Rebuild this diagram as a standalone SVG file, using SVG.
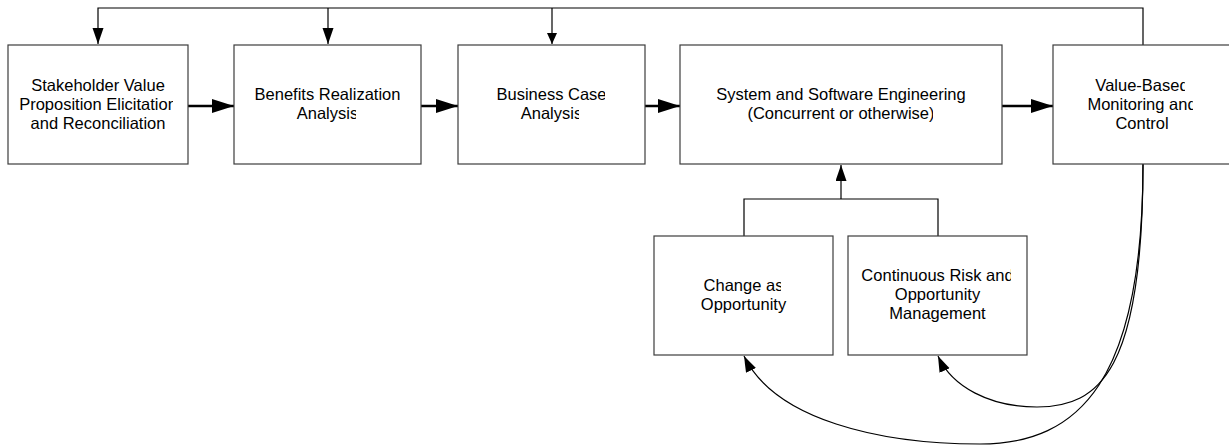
<svg xmlns="http://www.w3.org/2000/svg" width="1229" height="445" viewBox="0 0 1229 445">
<style>
.box{fill:#fff;stroke:#3c3c3c;stroke-width:1.2}
.t{font-family:"Liberation Sans",Arial,sans-serif;font-size:16.5px;fill:#000;text-anchor:middle}
.ln{fill:none;stroke:#000;stroke-width:1.2}
.thick{fill:none;stroke:#000;stroke-width:2.6}
</style>
<defs>
<marker id="big" markerUnits="userSpaceOnUse" markerWidth="24" markerHeight="16" refX="22" refY="7" orient="auto"><path d="M0,0 L22,7 L0,14 z" fill="#000"/></marker>
<marker id="med" markerUnits="userSpaceOnUse" markerWidth="18" markerHeight="14" refX="16" refY="5.5" orient="auto"><path d="M0,0 L16,5.5 L0,11 z" fill="#000"/></marker>
<marker id="sm" markerUnits="userSpaceOnUse" markerWidth="14" markerHeight="12" refX="11" refY="5" orient="auto"><path d="M0,0 L11,5 L0,10 z" fill="#000"/></marker>
<marker id="cv" markerUnits="userSpaceOnUse" markerWidth="18" markerHeight="14" refX="16" refY="5.5" orient="auto"><path d="M0,0 L16,5.5 L0,11 z" fill="#000"/></marker>
<clipPath id="c1"><rect x="0" y="95" width="173" height="20"/></clipPath>
<clipPath id="c2a"><rect x="230" y="85" width="170" height="20"/></clipPath>
<clipPath id="c2b"><rect x="230" y="105" width="126" height="20"/></clipPath>
<clipPath id="c3a"><rect x="455" y="85" width="150" height="20"/></clipPath>
<clipPath id="c3b"><rect x="455" y="105" width="124" height="20"/></clipPath>
<clipPath id="c4b"><rect x="680" y="105" width="253" height="20"/></clipPath>
<clipPath id="c5a"><rect x="1055" y="75" width="130" height="20"/></clipPath>
<clipPath id="c5b"><rect x="1055" y="95" width="138" height="20"/></clipPath>
<clipPath id="c6"><rect x="655" y="275" width="126" height="20"/></clipPath>
<clipPath id="c7"><rect x="850" y="265" width="161" height="20"/></clipPath>
</defs>

<g id="connectors">
<polyline class="ln" points="1143,45 1143,8 98,8 98,44" marker-end="url(#med)"/>
<line class="ln" x1="328" y1="8" x2="328" y2="44" marker-end="url(#med)"/>
<line class="ln" x1="552" y1="8" x2="552" y2="44" marker-end="url(#sm)"/>
<line class="thick" x1="188" y1="106" x2="234" y2="106" marker-end="url(#big)"/>
<line class="thick" x1="421" y1="106" x2="458" y2="106" marker-end="url(#big)"/>
<line class="thick" x1="645" y1="106" x2="680" y2="106" marker-end="url(#big)"/>
<line class="thick" x1="1002" y1="106" x2="1053" y2="106" marker-end="url(#big)"/>
<polyline class="ln" points="744,236 744,199 938,199 938,236"/>
<line class="ln" x1="841" y1="199" x2="841" y2="165" marker-end="url(#med)"/>
<path class="ln" d="M1143,164 C1143,370 1100,407 1037,407 C990,407 952,387 938,356" marker-end="url(#cv)"/>
<path class="ln" d="M1143,164 C1143,380 1080,444 980,444 C880,444 775,420 744,356" marker-end="url(#cv)"/>
</g>

<g id="n1">
<rect class="box" x="8" y="45" width="180" height="119"/>
<text class="t" x="98" y="91">Stakeholder Value</text>
<text class="t" x="98" y="110" clip-path="url(#c1)">Proposition Elicitation</text>
<text class="t" x="98" y="129">and Reconciliation</text>
</g>
<g id="n2">
<rect class="box" x="234" y="45" width="187" height="119"/>
<text class="t" x="327.5" y="100" clip-path="url(#c2a)">Benefits Realization</text>
<text class="t" x="327.5" y="119" clip-path="url(#c2b)">Analysis</text>
</g>
<g id="n3">
<rect class="box" x="458" y="45" width="187" height="119"/>
<text class="t" x="551.5" y="100" clip-path="url(#c3a)">Business Case</text>
<text class="t" x="551.5" y="119" clip-path="url(#c3b)">Analysis</text>
</g>
<g id="n4">
<rect class="box" x="680" y="45" width="322" height="119"/>
<text class="t" x="841" y="100">System and Software Engineering</text>
<text class="t" x="841" y="119" clip-path="url(#c4b)">(Concurrent or otherwise)</text>
</g>
<g id="n5">
<rect class="box" x="1053" y="45" width="180" height="119"/>
<text class="t" x="1142" y="91" clip-path="url(#c5a)">Value-Based</text>
<text class="t" x="1142" y="110" clip-path="url(#c5b)">Monitoring and</text>
<text class="t" x="1142" y="129">Control</text>
</g>
<g id="n6">
<rect class="box" x="654" y="236" width="179" height="119"/>
<text class="t" x="743.5" y="291" clip-path="url(#c6)">Change as</text>
<text class="t" x="743.5" y="310">Opportunity</text>
</g>
<g id="n7">
<rect class="box" x="848" y="236" width="179" height="119"/>
<text class="t" x="937.5" y="281" clip-path="url(#c7)">Continuous Risk and</text>
<text class="t" x="937.5" y="300">Opportunity</text>
<text class="t" x="937.5" y="319">Management</text>
</g>
</svg>
